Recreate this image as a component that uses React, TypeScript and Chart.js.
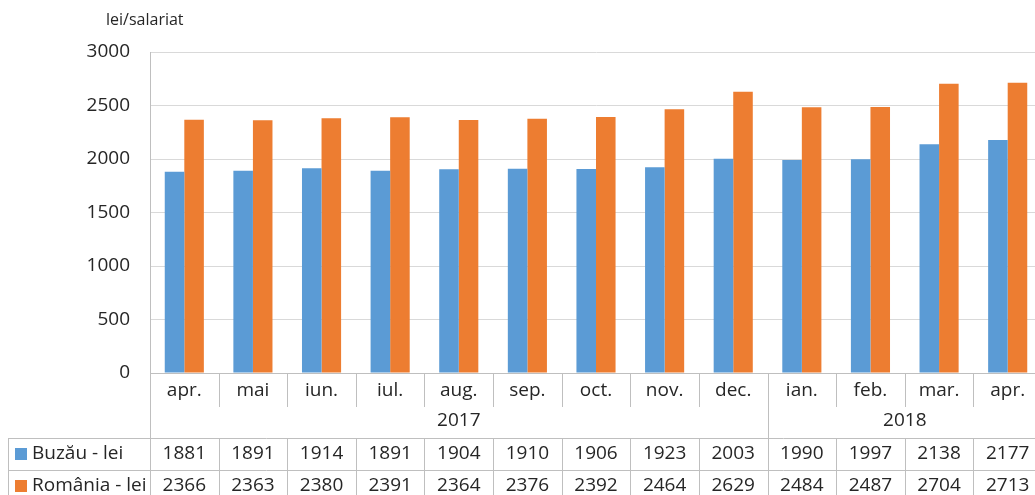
import React, { useEffect, useRef } from "react";
import { Chart, registerables } from "chart.js";

Chart.register(...registerables);

const months = ["apr.", "mai", "iun.", "iul.", "aug.", "sep.", "oct.", "nov.", "dec.", "ian.", "feb.", "mar.", "apr."];
const years = ["2017", "2018"];
const monthsPerYear = [9, 4];
const buzauValues = [1881, 1891, 1914, 1891, 1904, 1910, 1906, 1923, 2003, 1990, 1997, 2138, 2177];
const romaniaValues = [2366, 2363, 2380, 2391, 2364, 2376, 2392, 2464, 2629, 2484, 2487, 2704, 2713];
const seriesNames = ["Buzău - lei", "România - lei"];
const seriesColors = ["#5b9bd5", "#ed7d31"];
const yTicks = [0, 500, 1000, 1500, 2000, 2500, 3000];
const unitLabel = "lei/salariat";

const FONT = "'Open Sans', 'DejaVu Sans', sans-serif";
const TEXT = "#262626";
const LINE = "#bfbfbf";

const tablePlugin = {
  id: "tablePlugin",
  afterDraw(chart: any) {
    const ctx = chart.ctx;
    const ca = chart.chartArea;
    const xs = chart.scales.x;
    const n = months.length;
    const step = xs.getPixelForValue(1) - xs.getPixelForValue(0);
    const centers = months.map((_, i) => xs.getPixelForValue(i));
    const bounds: number[] = [];
    for (let i = 0; i <= n; i++) bounds.push(centers[0] - step / 2 + i * step);

    const monthY = ca.bottom + 18;
    const sepBottom = ca.bottom + 34;
    const yearY = ca.bottom + 48;
    const tableTop = ca.bottom + 65;
    const rowH = 32;
    const tableLeft = 8;

    ctx.save();
    ctx.strokeStyle = LINE;
    ctx.lineWidth = 1;

    ctx.beginPath();
    ctx.moveTo(ca.left, Math.round(ca.bottom) + 0.5);
    ctx.lineTo(ca.right, Math.round(ca.bottom) + 0.5);
    ctx.stroke();

    const yearBounds = [0];
    let acc = 0;
    monthsPerYear.forEach((m) => { acc += m; yearBounds.push(acc); });

    for (let i = 0; i <= n; i++) {
      const x = Math.round(bounds[i]) + 0.5;
      const isYear = yearBounds.includes(i);
      ctx.beginPath();
      if (isYear) {
        ctx.moveTo(x, ca.bottom);
        ctx.lineTo(x, tableTop + rowH * 2);
      } else {
        ctx.moveTo(x, ca.bottom);
        ctx.lineTo(x, sepBottom);
        ctx.moveTo(x, tableTop);
        ctx.lineTo(x, tableTop + rowH * 2);
      }
      ctx.stroke();
    }

    for (let r = 0; r <= 2; r++) {
      const y = Math.round(tableTop + r * rowH) + 0.5;
      ctx.beginPath();
      ctx.moveTo(tableLeft, y);
      ctx.lineTo(ca.right, y);
      ctx.stroke();
    }
    ctx.beginPath();
    ctx.moveTo(tableLeft + 0.5, tableTop);
    ctx.lineTo(tableLeft + 0.5, tableTop + rowH * 2);
    ctx.stroke();

    ctx.fillStyle = TEXT;
    ctx.font = `19px ${FONT}`;
    ctx.textAlign = "center";
    ctx.textBaseline = "middle";
    months.forEach((m, i) => ctx.fillText(m, centers[i], monthY));

    years.forEach((y, k) => {
      const x0 = bounds[yearBounds[k]];
      const x1 = bounds[yearBounds[k + 1]];
      ctx.fillText(y, (x0 + x1) / 2, yearY);
    });

    const rows = [buzauValues, romaniaValues];
    rows.forEach((vals, r) => {
      const cy = tableTop + r * rowH + rowH / 2;
      ctx.fillStyle = seriesColors[r];
      ctx.fillRect(15, cy - 6, 12, 12);
      ctx.fillStyle = TEXT;
      ctx.textAlign = "left";
      ctx.fillText(seriesNames[r], 32, cy);
      ctx.textAlign = "center";
      vals.forEach((v, i) => ctx.fillText(String(v), centers[i], cy));
    });

    ctx.font = `16px ${FONT}`;
    ctx.textAlign = "left";
    ctx.fillText(unitLabel, 106, 20);

    ctx.restore();
  },
};

export default function App() {
  const ref = useRef<HTMLCanvasElement | null>(null);

  useEffect(() => {
    if (!ref.current) return;
    const chart = new Chart(ref.current, {
      type: "bar",
      data: {
        labels: months,
        datasets: [
          { label: seriesNames[0], data: buzauValues, backgroundColor: seriesColors[0] },
          { label: seriesNames[1], data: romaniaValues, backgroundColor: seriesColors[1] },
        ],
      },
      options: {
        responsive: false,
        animation: false,
        devicePixelRatio: 1,
        layout: { padding: { top: 52, bottom: 122, left: 0, right: 3 } },
        plugins: { legend: { display: false }, tooltip: { enabled: false } },
        datasets: { bar: { categoryPercentage: 0.57, barPercentage: 1.0 } },
        scales: {
          x: { display: false },
          y: {
            min: 0,
            max: 3000,
            afterFit: (s: any) => { s.width = 150; },
            afterBuildTicks: (s: any) => { s.ticks = yTicks.map((v) => ({ value: v })); },
            ticks: {
              padding: 20,
              color: TEXT,
              font: { family: FONT, size: 19 },
              callback: (v: any) => String(v),
            },
            grid: { color: "#d9d9d9", drawTicks: false },
            border: { display: true, color: LINE },
          },
        },
      },
      plugins: [tablePlugin],
    });
    return () => chart.destroy();
  }, []);

  return (
    <div style={{ position: "fixed", left: 0, top: 0, width: 1035, height: 495, overflow: "hidden", background: "#fff" }}>
      <canvas ref={ref} width={1045} height={495} style={{ width: 1045, height: 495, display: "block" }} />
    </div>
  );
}
